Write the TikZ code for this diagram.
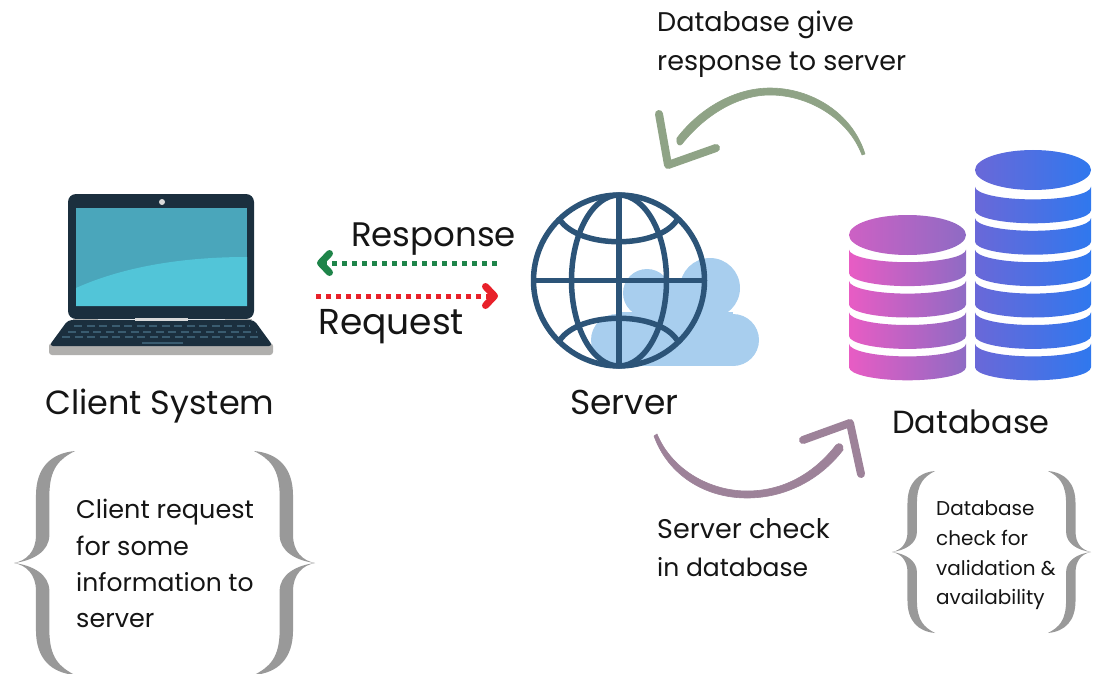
\documentclass[tikz,border=0pt]{standalone}
\usepackage{fontspec}
\setmainfont{Poppins}
\usetikzlibrary{arrows.meta}
\definecolor{lidc}{HTML}{1B2F3E}
\definecolor{scrd}{HTML}{4AA6BB}
\definecolor{scrl}{HTML}{52C5D8}
\definecolor{keyc}{HTML}{3A5C70}
\definecolor{silv}{HTML}{B0AFAD}
\definecolor{globec}{HTML}{2C5478}
\definecolor{cloudc}{HTML}{A8CEEE}
\definecolor{pinkl}{HTML}{E85CC4}
\definecolor{pinkr}{HTML}{8E6BC4}
\definecolor{bluel}{HTML}{6A68D8}
\definecolor{bluer}{HTML}{2F78EE}
\definecolor{sage}{HTML}{8FA386}
\definecolor{mauve}{HTML}{9D8299}
\definecolor{bracec}{HTML}{999999}
\definecolor{greenc}{HTML}{1E8449}
\definecolor{redc}{HTML}{E8212A}
\definecolor{textc}{HTML}{151515}
\tikzset{
  x=1pt,y=-1pt,
  lbl/.style={anchor=base west,inner sep=0pt,text=textc},
  sized/.style={lbl,font=\fontsize{#1}{#1}\selectfont},
  gline/.style={draw=globec,line width=5.5pt},
  dotline/.style={line width=5pt,dash pattern=on 5pt off 5pt},
  barb/.style={-{Straight Barb[length=9pt,width=19pt,line width=7pt,round]}},
  bracefill/.style={fill=bracec},
  keyrow/.style={draw=keyc,line width=2pt,dash pattern=on 8pt off 4.5pt},
  headline/.style={line width=8pt,line cap=round,line join=round},
}
\newcommand{\bracepath}{(1,-1) .. controls (.6,-.98) and (.36,-.85) .. (.36,-.6) -- (.36,-.25) .. controls (.36,-.1) and (.2,-.02) .. (0,0) .. controls (.2,.02) and (.36,.1) .. (.36,.25) -- (.36,.6) .. controls (.36,.85) and (.6,.98) .. (1,1) .. controls (.75,.93) and (.58,.85) .. (.58,.6) -- (.58,.25) .. controls (.58,.1) and (.3,.02) .. (0,0) .. controls (.3,-.02) and (.58,-.1) .. (.58,-.25) -- (.58,-.6) .. controls (.58,-.85) and (.75,-.93) .. (1,-1) -- cycle}
\begin{document}
\begin{tikzpicture}
\useasboundingbox (0,0) rectangle (1095,674);
\clip (0,0) rectangle (1095,674);
% laptop
\fill[lidc,rounded corners=8pt] (68,194) rectangle (254,319);
\fill[scrd] (76,208) rectangle (247,306);
\fill[scrl] (76,288) .. controls (125,266) and (185,257) .. (247,257) -- (247,306) -- (76,306) -- cycle;
\fill[white!85!black] (162,202) circle (3);
\fill[silv,rounded corners=3pt] (49,343) rectangle (273,355);
\fill[lidc,rounded corners=4pt] (68,320) -- (254,320) -- (273,346) -- (49,346) -- cycle;
\fill[white!85!black] (135,318) rectangle (188,320.5);
\fill[silv] (73,318.5) rectangle (98,320);
\fill[silv] (225,318.5) rectangle (252,320);
\draw[keyrow] (74,326) -- (250,326);
\draw[keyrow] (68,331.5) -- (256,331.5);
\draw[keyrow] (62,337) -- (262,337);
\draw[keyc,line width=2pt] (142,342.5) -- (183,342.5);
% cloud
\fill[cloudc] (617,340) circle (26) (647,293) circle (24) (710,288) circle (30) (733,340) circle (26);
\fill[cloudc] (617,312) rectangle (733,366);
\fill[cloudc] (647,278) rectangle (710,320);
% globe
\draw[gline] (619,280.5) circle (85.5);
\draw[gline] (619,280.5) ellipse (47.5 and 85.5);
\draw[gline] (619,195) -- (619,366);
\draw[gline] (533.5,280.5) -- (704.5,280.5);
\draw[gline] (560,220) .. controls (580,249) and (658,249) .. (677,220);
\draw[gline] (560,340) .. controls (580,311) and (658,311) .. (677,340);
% database
\foreach \k in {2,...,5}{
  \pgfmathsetmacro{\yy}{186.7+31.4*\k}
  \shade[left color=pinkl,right color=pinkr] (849,\yy) arc[start angle=180,end angle=0,x radius=58.5,y radius=12.7] -- ++(0,23.6) arc[start angle=0,end angle=180,x radius=58.5,y radius=13] -- cycle;
}
\shade[left color=pinkl!70!pinkr,right color=pinkr] (907.5,235) ellipse (58.5 and 20);
\foreach \k in {0,...,5}{
  \pgfmathsetmacro{\yy}{186.7+31.4*\k}
  \shade[left color=bluel,right color=bluer] (975,\yy) arc[start angle=180,end angle=0,x radius=58,y radius=12.7] -- ++(0,23.6) arc[start angle=0,end angle=180,x radius=58,y radius=13] -- cycle;
}
\shade[left color=bluel,right color=bluer] (1033,170) ellipse (58 and 20);
% request/response arrows
\coordinate (respFrom) at (497,263);
\coordinate (respTo) at (317,263);
\coordinate (reqFrom) at (316,296);
\coordinate (reqTo) at (498,296);
\draw[greenc,dotline,barb] (respFrom) -- (respTo);
\draw[redc,dotline,barb] (reqFrom) -- (reqTo);
% curved arrows
\fill[sage,draw=sage,line width=.6pt,line join=round] (865,154) .. controls (852,112) and (810,88) .. (770,88) .. controls (735,88) and (700,108) .. (677,138) .. controls (676,146) and (680,146) .. (682,144) .. controls (705,115) and (738,95) .. (770,95) .. controls (808,95) and (848,118) .. (862,155) -- cycle;
\coordinate (gA) at (659,114);
\coordinate (gB) at (668,165);
\coordinate (gC) at (716,148);
\draw[sage,headline] (gA) -- (gB) -- (gC);
\fill[mauve,draw=mauve,line width=.6pt,line join=round] (654,436) .. controls (668,475) and (705,498) .. (747,498) .. controls (785,498) and (820,480) .. (843,450) .. controls (844,444) and (839,442) .. (836,445) .. controls (815,472) and (785,491) .. (747,491) .. controls (710,491) and (672,470) .. (657,434) -- cycle;
\coordinate (pA) at (803,440);
\coordinate (pB) at (850,423);
\coordinate (pC) at (861,474);
\draw[mauve,headline] (pA) -- (pB) -- (pC);
% braces
\fill[bracefill,shift={(14,563)},xscale=61,yscale=112] \bracepath;
\fill[bracefill,shift={(315,563)},xscale=-61,yscale=112] \bracepath;
\fill[bracefill,shift={(892,552)},xscale=43,yscale=81] \bracepath;
\fill[bracefill,shift={(1091,552)},xscale=-43,yscale=81] \bracepath;
% labels
\node[sized=33.5] (client) at (45,414) {Client System};
\node[sized=34] (resp) at (351,246) {Response};
\node[sized=36] (req) at (318,334) {Request};
\node[sized=34.5] (server) at (570,414) {Server};
\node[sized=32] (db) at (892,433) {Database};
\node[sized=27] (dbg1) at (657,32) {Database give};
\node[sized=27] (dbg2) at (657,71) {response to server};
\node[sized=27] (sc1) at (657,538) {Server check};
\node[sized=25] (sc2) at (657,576) {in database};
\node[sized=25.5] (cr1) at (76,518) {Client request};
\node[sized=25.5] (cr2) at (76,555) {for some};
\node[sized=25] (cr3) at (76,591) {information to};
\node[sized=25.5] (cr4) at (76,627) {server};
\node[sized=20] (dc1) at (936,515) {Database};
\node[sized=20] (dc2) at (936,545) {check for};
\node[sized=20] (dc3) at (936,575) {validation \&};
\node[sized=20] (dc4) at (936,604) {availability};
\end{tikzpicture}
\end{document}
